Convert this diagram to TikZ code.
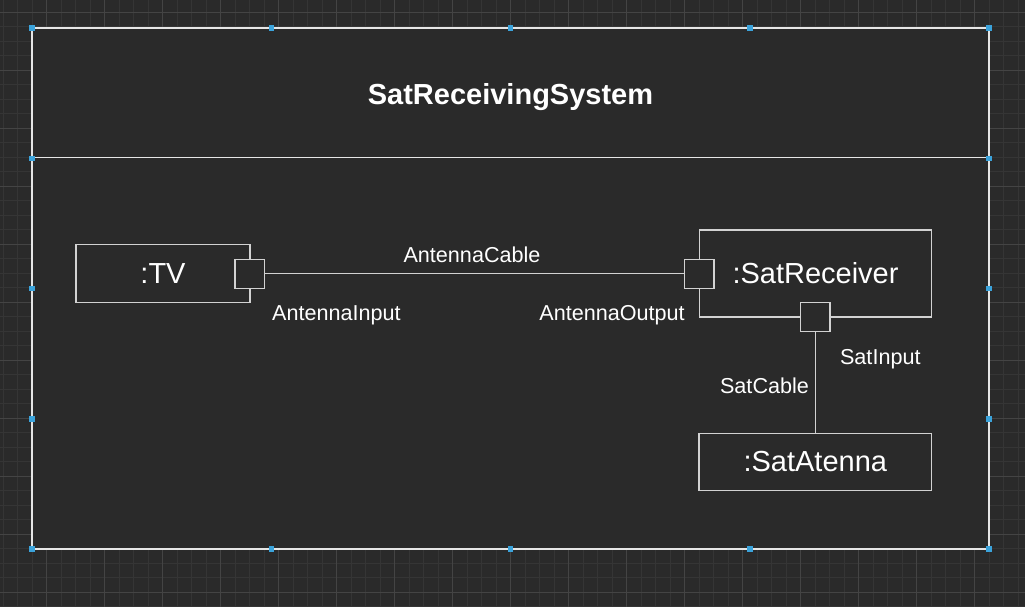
\documentclass[tikz,border=0pt]{standalone}
\usepackage{fontspec}
\setmainfont{Liberation Sans}
\usetikzlibrary{calc}
\definecolor{bg}{HTML}{2A2A2A}
\definecolor{gridminor}{HTML}{353535}
\definecolor{gridmajor}{HTML}{444444}
\definecolor{boxline}{HTML}{E6E6E6}
\definecolor{partline}{HTML}{D2D2D2}
\definecolor{handle}{HTML}{3BA3DB}
\tikzset{
  sysbox/.style={draw=boxline, line width=1.8pt, fill=bg, minimum width=957pt, minimum height=521pt, inner sep=0pt},
  partbox/.style={draw=partline, line width=1.3pt, fill=bg, inner sep=0pt, text=white, font=\fontsize{29}{34}\selectfont},
  portbox/.style={draw=partline, line width=1.3pt, fill=bg, inner sep=0pt, minimum width=29.5pt, minimum height=29pt},
  conn/.style={draw=partline, line width=1.1pt},
  lbl/.style={text=white, anchor=base, inner sep=0pt, font=\fontsize{21.6}{25}\selectfont},
  titlelbl/.style={text=white, anchor=base, inner sep=0pt, font=\bfseries\fontsize{29}{34}\selectfont},
  handlemark/.style={fill=handle, minimum size=5.5pt, inner sep=0pt},
}
\begin{document}
\begin{tikzpicture}[x=1pt,y=-1pt]
\fill[bg] (0,0) rectangle (1025,607);
\useasboundingbox (0,0) rectangle (1025,607);
% grid
\foreach \i in {0,...,70} {
  \pgfmathsetmacro\xx{3.2+14.5*\i}
  \draw[gridminor, line width=1pt] (\xx,0) -- (\xx,607);
}
\foreach \i in {0,...,42} {
  \pgfmathsetmacro\yy{-2.2+14.5*\i}
  \draw[gridminor, line width=1pt] (0,\yy) -- (1025,\yy);
}
\foreach \i in {0,...,17} {
  \pgfmathsetmacro\xx{46.7+58*\i}
  \draw[gridmajor, line width=1pt] (\xx,0) -- (\xx,607);
}
\foreach \i in {0,...,10} {
  \pgfmathsetmacro\yy{12.3+58*\i}
  \draw[gridmajor, line width=1pt] (0,\yy) -- (1025,\yy);
}
% system box
\node[sysbox] (sys) at (510.5,288.5) {};
\coordinate (divl) at (32,157.5);
\coordinate (divr) at (989,157.5);
\draw[draw=boxline, line width=1.8pt] (divl) -- (divr);
\node[titlelbl] (title) at (510.5,104.3) {SatReceivingSystem};
% parts
\node[partbox, minimum width=174pt, minimum height=57.5pt] (tv) at (163,273.5) {:TV};
\node[partbox, minimum width=232.5pt, minimum height=87pt] (rx) at (815.5,273.5) {:SatReceiver};
\node[partbox, minimum width=232.5pt, minimum height=57.5pt] (ant) at (815.3,462) {:SatAtenna};
% ports
\node[portbox] (tvp) at (249.7,273.7) {};
\node[portbox] (rxl) at (699.3,273.7) {};
\node[portbox] (rxb) at (815.3,317.2) {};
% connectors
\draw[conn] (tvp.east) -- (rxl.west);
\draw[conn] (rxb.south) -- (ant.north);
% labels
\node[lbl] (cable) at (472,262.7) {AntennaCable};
\node[lbl] (inlbl) at (336.5,320) {AntennaInput};
\node[lbl] (outlbl) at (612,320.5) {AntennaOutput};
\node[lbl] (satin) at (880.3,364.3) {SatInput};
\node[lbl] (satcable) at (764.5,393.3) {SatCable};
% selection handles
\foreach \hx in {32,271.25,510.5,749.75,989} {
  \node[handlemark] at (\hx,28) {};
  \node[handlemark] at (\hx,549) {};
}
\foreach \hy in {158.25,288.5,418.75} {
  \node[handlemark] at (32,\hy) {};
  \node[handlemark] at (989,\hy) {};
}
\end{tikzpicture}
\end{document}
